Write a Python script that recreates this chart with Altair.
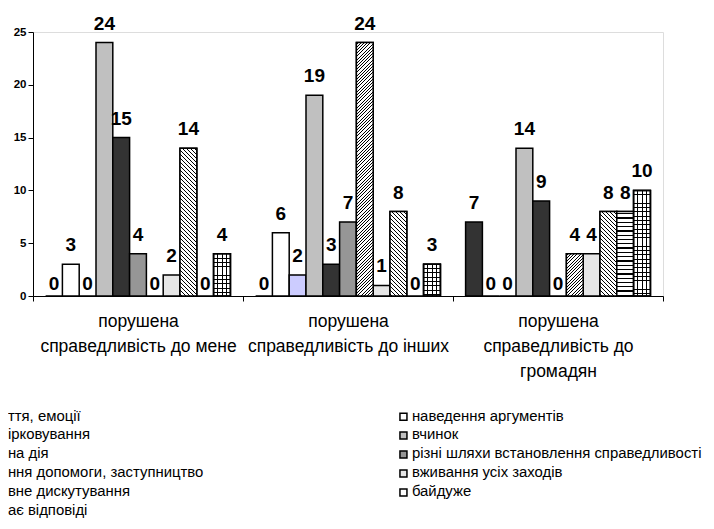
import altair as alt
import pandas as pd

# ---------------- data ----------------
categories = [
    "порушена|справедливість до мене",
    "порушена|справедливість до інших",
    "порушена|справедливість до|громадян",
]
series_names = [
    "ття, емоції",
    "наведення аргументів",
    "ірковування",
    "вчинок",
    "на дія",
    "різні шляхи встановлення справедливості",
    "ння допомоги, заступництво",
    "вживання усіх заходів",
    "вне дискутування",
    "байдуже",
    "ає відповіді",
]
vals_mene = [0, 3, 0, 24, 15, 4, 0, 2, 14, 0, 4]
vals_inshykh = [0, 6, 2, 19, 3, 7, 24, 1, 8, 0, 3]
vals_hromadian = [7, 0, 0, 14, 9, 0, 4, 4, 8, 8, 10]
y_ticks = [0, 5, 10, 15, 20, 25]

# ---------------- styles ----------------
base_fills = ["#333333", "#ffffff", "#ccccff", "#c0c0c0", "#333333", "#969696",
              "#ffffff", "#e6e6e6", "#ffffff", "#ffffff", "#ffffff"]
# series index -> (pattern kind, spacing px, line thickness px)
patterns = {6: ("up", 3.2, 1.0), 8: ("down", 4.0, 1.2), 9: ("hlines", 4.3, 1.3), 10: ("grid", 4.3, 0.9)}

FONT = "Liberation Sans"
PLOT_W, PLOT_H, Y_MAX = 630, 264, 25
OUTER = 0.75
BAR_W = PLOT_W / len(categories) / (len(series_names) + 2 * OUTER)

# legend is filled column by column: left column = odd entries, right = even
legend_order = series_names[0::2] + series_names[1::2]
legend_fills = [base_fills[series_names.index(s)] for s in legend_order]

rows = []
for cat, vals in zip(categories, [vals_mene, vals_inshykh, vals_hromadian]):
    for i, (s, v) in enumerate(zip(series_names, vals)):
        rows.append({"cat": cat, "series": s, "sidx": i, "value": v})
df = pd.DataFrame(rows)


def stripe_stops(length, spacing, thick, line, bg, phase):
    stops = [(0.0, bg)]
    c = phase
    while c - thick / 2 < length:
        a = max(0.0, (c - thick / 2) / length)
        b = min(1.0, (c + thick / 2) / length)
        if b > 0:
            stops += [(a, bg), (a, line), (b, line), (b, bg)]
        c += spacing
    stops.append((1.0, bg))
    return [{"offset": round(o, 5), "color": col} for o, col in stops]


def pattern_fills(kind, w, h, spacing, thick):
    if kind in ("up", "down"):
        m = (w + h) / (w * w + h * h)
        a, b = w * m, h * m
        st = stripe_stops(w + h, spacing, thick, "#000000", "#ffffff", spacing / 2)
        if kind == "up":
            return [{"gradient": "linear", "x1": 0, "y1": 0, "x2": round(a, 5), "y2": round(b, 5), "stops": st}]
        return [{"gradient": "linear", "x1": 0, "y1": 1, "x2": round(a, 5), "y2": round(1 - b, 5), "stops": st}]
    if kind == "hlines":
        st = stripe_stops(h, spacing, thick, "#000000", "#ffffff", spacing / 2)
        return [{"gradient": "linear", "x1": 0, "y1": 0, "x2": 0, "y2": 1, "stops": st}]
    # grid
    st_v = stripe_stops(w, spacing, thick, "#000000", "#ffffff", spacing)
    st_h = stripe_stops(h, spacing, thick, "#000000", "rgba(0,0,0,0)", spacing)
    return [
        {"gradient": "linear", "x1": 0, "y1": 0, "x2": 1, "y2": 0, "stops": st_v},
        {"gradient": "linear", "x1": 0, "y1": 0, "x2": 0, "y2": 1, "stops": st_h},
    ]


# ---------------- encodings ----------------
x_enc = alt.X(
    "cat:N",
    sort=categories,
    scale=alt.Scale(domain=categories, paddingInner=0, paddingOuter=0),
    axis=alt.Axis(
        title=None, labelAngle=0, labelExpr="split(datum.label, '|')",
        labelFont=FONT, labelFontSize=17.5, labelColor="black", labelLineHeight=25,
        labelBaseline="top", labelPadding=11, labelLimit=500, labelOverlap=False,
        tickBand="extent", tickSize=5, tickColor="black", tickWidth=1,
        domainColor="black", domainWidth=1,
    ),
)
xo_enc = alt.XOffset(
    "series:N", sort=series_names,
    scale=alt.Scale(domain=series_names, paddingInner=0, paddingOuter=OUTER),
)
y_enc = alt.Y(
    "value:Q",
    scale=alt.Scale(domain=[0, Y_MAX], nice=False, zero=True),
    axis=alt.Axis(
        title=None, values=y_ticks, grid=False,
        labelFont=FONT, labelFontSize=11.5, labelFontWeight="bold", labelColor="black",
        labelPadding=2, tickSize=5, tickColor="black", domainColor="black", domainWidth=1,
    ),
)

base = alt.Chart(df).mark_bar(stroke="black", strokeWidth=1.5).encode(
    x=x_enc, xOffset=xo_enc, y=y_enc,
    fill=alt.Fill(
        "series:N",
        scale=alt.Scale(domain=legend_order, range=legend_fills),
        legend=alt.Legend(
            title=None, orient="none", legendX=-41, legendY=377, columns=2,
            columnPadding=192, rowPadding=3.0, padding=0, offset=0,
            symbolType="square", symbolSize=49, symbolStrokeColor="black",
            symbolStrokeWidth=1.5, symbolOpacity=1, labelOffset=1,
            labelFont=FONT, labelFontSize=14.9, labelColor="black", labelLimit=600,
        ),
    ),
)

layers = [base]
all_vals = [vals_mene, vals_inshykh, vals_hromadian]
for sidx, (kind, spacing, thick) in patterns.items():
    for cat, vals in zip(categories, all_vals):
        v = vals[sidx]
        if v <= 0:
            continue
        h = v * PLOT_H / Y_MAX
        for g in pattern_fills(kind, BAR_W, h, spacing, thick):
            layers.append(
                alt.Chart(df)
                .transform_filter((alt.datum.cat == cat) & (alt.datum.sidx == sidx))
                .mark_bar(fill=g, stroke="black", strokeWidth=1.5)
                .encode(x=x_enc, xOffset=xo_enc, y=y_enc)
            )

labels_pos = (
    alt.Chart(df).transform_filter(alt.datum.value > 0)
    .mark_text(font=FONT, fontSize=19, fontWeight="bold", color="black", baseline="alphabetic", dy=-13)
    .encode(x=x_enc, xOffset=xo_enc, y=y_enc, text="value:Q")
)
labels_zero = (
    alt.Chart(df).transform_filter(alt.datum.value == 0)
    .mark_text(font=FONT, fontSize=19, fontWeight="bold", color="black", baseline="alphabetic", dy=-6)
    .encode(x=x_enc, xOffset=xo_enc, y=y_enc, text="value:Q")
)
layers += [labels_pos, labels_zero]

chart = (
    alt.layer(*layers)
    .properties(
        width=PLOT_W, height=PLOT_H,
        autosize=alt.AutoSizeParams(type="none"),
        padding={"left": 25, "top": 24, "right": 43, "bottom": 225},
        background="white",
    )
    .configure_view(stroke=None)
    .configure(font=FONT)
)

chart.save("out.html", embed_options={"renderer": "svg", "actions": False})
